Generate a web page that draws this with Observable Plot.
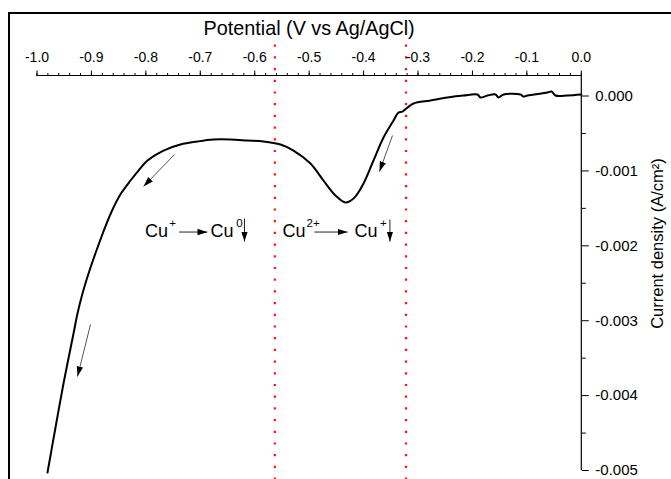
<!DOCTYPE html>
<html><head><meta charset="utf-8">
<script src="https://cdn.jsdelivr.net/npm/d3@7"></script>
<script src="https://cdn.jsdelivr.net/npm/@observablehq/plot@0.6"></script>
<style>
body{margin:0;background:#fff;}
#wrap{position:relative;width:671px;height:479px;overflow:hidden;background:#fff;}
#frame{position:absolute;left:8px;top:12px;width:700px;height:500px;border-left:2.5px solid #000;border-top:2.5px solid #000;pointer-events:none;}
svg{font-family:"Liberation Sans",Arial,sans-serif;}
</style></head><body><div id="wrap"><div id="frame"></div></div>
<script>
// Polarization curve: potential (V vs Ag/AgCl) and current density (A/cm2)
const potential = [-0.9807,-0.9660,-0.9513,-0.9329,-0.9256,-0.9164,-0.9035,-0.8888,-0.8751,-0.8595,-0.8457,-0.8282,-0.8135,-0.7970,-0.7676,-0.7364,-0.7051,-0.6757,-0.6445,-0.6133,-0.5839,-0.5527,-0.5288,-0.4976,-0.4737,-0.4516,-0.4332,-0.4185,-0.4001,-0.3818,-0.3634,-0.3450,-0.3358,-0.3285,-0.3193,-0.3083,-0.2771,-0.2458,-0.2164,-0.1907,-0.1852,-0.1723,-0.1576,-0.1521,-0.1429,-0.1117,-0.1062,-0.0988,-0.0621,-0.0547,-0.0474,-0.0253,0.0];
const current = [-0.005027,-0.004426,-0.003838,-0.003171,-0.002904,-0.002637,-0.00233,-0.002023,-0.001756,-0.001489,-0.001302,-0.001128,-0.000995,-0.000861,-0.000728,-0.000648,-0.000607,-0.000581,-0.000581,-0.000594,-0.000607,-0.000648,-0.000728,-0.000901,-0.001128,-0.001328,-0.001422,-0.001369,-0.001168,-0.000861,-0.000554,-0.000327,-0.00022,-0.000207,-0.000154,-0.0001,-0.00006,-0.00002,0.000007,0.00002,-0.00002,0.000007,0.00002,-0.00002,0.00002,0.00002,-0.000007,0.000007,0.000047,0.00006,0.000007,0.000007,0.00002];

const xTicks = [-1.0,-0.9,-0.8,-0.7,-0.6,-0.5,-0.4,-0.3,-0.2,-0.1,0.0];
const xMinorTicks = d3.range(0, 51).map(i => -1 + i * 0.02);
const yTicks = [0.000,-0.001,-0.002,-0.003,-0.004,-0.005];
const yMinorTicks = [-0.0005,-0.0015,-0.0025,-0.0035,-0.0045];
const xDomain = [-1.0, 0.0];
const yDomain = [-0.005, 0.000274];
const xTitle = "Potential (V vs Ag/AgCl)";
const yTitle = "Current density (A/cm²)";

// red dotted reference potentials
const markerPotentials = [-0.563, -0.322];
const markerTop = 0.00068, markerBottom = -0.0053;

// scan-direction arrows on curve
const scanX1 = [-0.7474,-0.9017,-0.3469];
const scanY1 = [-0.000781,-0.003051,-0.000527];
const scanX2 = [-0.8043,-0.9256,-0.3708];
const scanY2 = [-0.001208,-0.003745,-0.001008];

// reaction labels
const labelText = ["Cu","Cu","Cu","Cu"];
const labelX = [-0.8016,-0.6812,-0.5490,-0.4167];
const labelY = [-0.00180,-0.00180,-0.00180,-0.00180];
const supText = ["+","0","2+","+"];
const supX = [-0.7570,-0.6340,-0.5049,-0.3700];
const supY = [-0.00170,-0.00170,-0.00170,-0.00170];
const rxnX1 = [-0.739,-0.4902];
const rxnX2 = [-0.6868,-0.4295];
const rxnY = [-0.001816,-0.001816];
const downX = [-0.6188,-0.3516];
const downY1 = [-0.001636,-0.001650];
const downY2 = [-0.001943,-0.001943];

const curve = potential.map((v, i) => ({v, j: current[i]}));
const scan = scanX1.map((d, i) => ({x1: d, y1: scanY1[i], x2: scanX2[i], y2: scanY2[i]}));
const labels = labelText.map((t, i) => ({t, x: labelX[i], y: labelY[i]}));
const sups = supText.map((t, i) => ({t, x: supX[i], y: supY[i]}));
const rxn = rxnX1.map((d, i) => ({x1: d, x2: rxnX2[i], y: rxnY[i]}));
const downs = downX.map((d, i) => ({x: d, y1: downY1[i], y2: downY2[i]}));

function filledHead(color, context) {
  const doc = (context && context.document) || document;
  const ns = "http://www.w3.org/2000/svg";
  const m = doc.createElementNS(ns, "marker");
  m.setAttribute("viewBox", "-10 -4 10 8");
  m.setAttribute("markerWidth", 10);
  m.setAttribute("markerHeight", 8);
  m.setAttribute("markerUnits", "userSpaceOnUse");
  m.setAttribute("refX", 0);
  m.setAttribute("refY", 0);
  m.setAttribute("orient", "auto");
  const p = doc.createElementNS(ns, "path");
  p.setAttribute("d", "M-10,-3.2L0,0L-10,3.2Z");
  p.setAttribute("fill", "#000");
  p.setAttribute("stroke", "none");
  m.appendChild(p);
  return m;
}

const plot = Plot.plot({
  width: 671,
  height: 479,
  marginLeft: 36.5,
  marginRight: 90.2,
  marginTop: 75,
  marginBottom: 9,
  style: {fontFamily: "'Liberation Sans', Arial, sans-serif", background: "transparent", overflow: "visible"},
  x: {domain: xDomain},
  y: {domain: yDomain},
  marks: [
    Plot.ruleX(markerPotentials, {y1: markerTop, y2: markerBottom, stroke: "#ff1010", strokeWidth: 2.2, strokeDasharray: "2.2 9.5", clip: false}),
    Plot.ruleY([yDomain[1]], {x1: xDomain[0], x2: xDomain[1], stroke: "#000", strokeWidth: 1.2}),
    Plot.ruleX([xDomain[1]], {y1: yDomain[0], y2: yDomain[1], stroke: "#000", strokeWidth: 1.2}),
    Plot.axisX({anchor: "top", ticks: xMinorTicks, tickSize: 3, tickFormat: () => "", label: null, stroke: "#000"}),
    Plot.axisX({anchor: "top", ticks: xTicks, tickSize: 5.5, tickPadding: 8, tickFormat: d => d.toFixed(1), label: null, fontSize: 14, fill: "#000", stroke: "#000"}),
    Plot.axisY({anchor: "right", ticks: yMinorTicks, tickSize: 4, tickFormat: () => "", label: null, stroke: "#000"}),
    Plot.axisY({anchor: "right", ticks: yTicks, tickSize: 7, tickPadding: 7, tickFormat: d => d.toFixed(3), label: null, fontSize: 15, fill: "#000", stroke: "#000"}),
    Plot.text([xTitle], {frameAnchor: "top", dy: -47, lineAnchor: "middle", fontSize: 19.8, fill: "#000"}),
    Plot.text([yTitle], {x: xDomain[1], y: -0.001970, dx: 76, rotate: -90, fontSize: 16.5, fill: "#000", clip: false}),
    Plot.line(curve, {x: "v", y: "j", stroke: "#000", strokeWidth: 2, curve: "catmull-rom", clip: false}),
    Plot.link(scan, {x1: "x1", y1: "y1", x2: "x2", y2: "y2", stroke: "#555", strokeWidth: 1, markerEnd: filledHead}),
    Plot.link(rxn, {x1: "x1", y1: "y", x2: "x2", y2: "y", stroke: "#222", strokeWidth: 1, markerEnd: filledHead}),
    Plot.link(downs, {x1: "x", y1: "y1", x2: "x", y2: "y2", stroke: "#222", strokeWidth: 1, markerEnd: filledHead}),
    Plot.text(labels, {x: "x", y: "y", text: "t", textAnchor: "start", lineAnchor: "middle", fontSize: 18, fill: "#000"}),
    Plot.text(sups, {x: "x", y: "y", text: "t", textAnchor: "start", lineAnchor: "middle", fontSize: 11.5, fill: "#000"})
  ]
});
document.getElementById("wrap").prepend(plot);
</script>
</body></html>
